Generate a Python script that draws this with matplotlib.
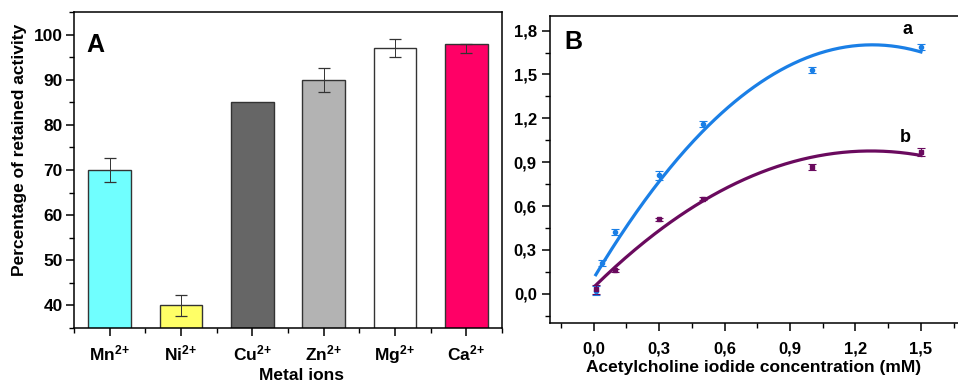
import numpy as np
import matplotlib
matplotlib.use("Agg")
import matplotlib.pyplot as plt
from matplotlib.ticker import MultipleLocator, FuncFormatter

plt.rcParams["font.family"] = ["Liberation Sans", "DejaVu Sans"]
plt.rcParams["font.weight"] = "bold"
plt.rcParams["mathtext.fontset"] = "custom"
plt.rcParams["mathtext.rm"] = "Liberation Sans:bold"
plt.rcParams["mathtext.bf"] = "Liberation Sans:bold"
plt.rcParams["mathtext.default"] = "bf"

# ── Panel A data ──────────────────────────────────────
ions = ["Mn", "Ni", "Cu", "Zn", "Mg", "Ca"]
retained = [70, 40, 85, 90, 97, 98]
err_low = [2.7, 2.3, 0, 2.7, 2.0, 2.0]
err_up = [2.7, 2.3, 0, 2.7, 2.0, 0]
bar_colors = ["#70FFFF", "#FFFF66", "#666666", "#B3B3B3", "#FFFFFF", "#FF0066"]

# ── Panel B data ──────────────────────────────────────
conc_a = [0.01, 0.04, 0.1, 0.3, 0.5, 1.0, 1.5]
resp_a = [0.02, 0.21, 0.42, 0.81, 1.16, 1.53, 1.69]
err_a = [0.03, 0.02, 0.02, 0.03, 0.02, 0.02, 0.02]
conc_b = [0.01, 0.1, 0.3, 0.5, 1.0, 1.5]
resp_b = [0.03, 0.16, 0.51, 0.65, 0.87, 0.97]
err_b = [0.03, 0.01, 0.01, 0.01, 0.02, 0.03]

BLUE = "#1A7FE6"
PURPLE = "#6A0A5E"

fig = plt.figure(figsize=(9.58, 3.83), dpi=100)

# ── Panel A ───────────────────────────────────────────
ax1 = fig.add_axes([74 / 958, 1 - 328 / 383, 428 / 958, 316 / 383])
x = np.arange(len(ions))
ax1.bar(x, retained, width=0.6, color=bar_colors, edgecolor="#333333",
        linewidth=1.0, zorder=2)
for xi, v, lo, up in zip(x, retained, err_low, err_up):
    if lo > 0 or up > 0:
        ax1.errorbar(xi, v, yerr=[[lo], [up]], fmt="none", ecolor="#333333",
                     elinewidth=0.7, capsize=4, capthick=0.9, zorder=3)
ax1.set_xlim(-0.5, 5.5)
ax1.set_ylim(35, 105)
ax1.set_xticks(x)
ax1.set_xticklabels([r"$\mathrm{%s}^{\mathrm{2\!+}}$" % n for n in ions], fontsize=12.5)
ax1.xaxis.set_minor_locator(MultipleLocator(0.5))
ax1.yaxis.set_minor_locator(MultipleLocator(5))
ax1.set_yticks([40, 50, 60, 70, 80, 90, 100])
ax1.tick_params(axis="y", which="major", labelsize=12.5, length=6, width=1.1, pad=2)
ax1.tick_params(axis="x", which="major", length=6, width=1.1, pad=5)
ax1.tick_params(axis="both", which="minor", length=3.5, width=1.0)
ax1.set_ylabel("Percentage of retained activity", fontsize=12.5, fontweight="bold")
ax1.yaxis.set_label_coords(-0.11, 0.565)
ax1.set_xlabel("Metal ions", fontsize=12.5, fontweight="bold")
ax1.xaxis.set_label_coords(0.532, -0.125)
for s in ax1.spines.values():
    s.set_linewidth(1.1)
ax1.text(0.03, 0.935, "A", transform=ax1.transAxes, fontsize=18,
         fontweight="bold", va="top", ha="left")

# ── Panel B ───────────────────────────────────────────
ax2 = fig.add_axes([550 / 958, 1 - 323 / 383, 408 / 958, 307 / 383])
for conc, resp, err, col, mk in [(conc_a, resp_a, err_a, BLUE, "o"),
                                 (conc_b, resp_b, err_b, PURPLE, "s")]:
    ax2.errorbar(conc, resp, yerr=err, fmt=mk, color=col, ms=3,
                 elinewidth=0.8, capsize=3, capthick=0.8, zorder=3)
    coef = np.polyfit(conc, resp, 2)
    xs = np.linspace(min(conc), max(conc), 200)
    ax2.plot(xs, np.polyval(coef, xs), color=col, lw=2.3, zorder=2)

ax2.set_xlim(-0.2, 1.67)
ax2.set_ylim(-0.2, 1.9)
ax2.xaxis.set_major_locator(MultipleLocator(0.3))
ax2.xaxis.set_minor_locator(MultipleLocator(0.15))
ax2.yaxis.set_major_locator(MultipleLocator(0.3))
ax2.yaxis.set_minor_locator(MultipleLocator(0.15))
comma = FuncFormatter(lambda v, p: f"{v:.1f}".replace(".", ",").replace("-0,0", "0,0"))
ax2.xaxis.set_major_formatter(comma)
ax2.yaxis.set_major_formatter(comma)
ax2.tick_params(axis="both", which="major", labelsize=12, length=6, width=1.1)
ax2.tick_params(axis="x", which="major", pad=7)
ax2.tick_params(axis="both", which="minor", length=3.5, width=1.0)
ax2.set_xlabel("Acetylcholine iodide concentration (mM)", fontsize=12.5,
               fontweight="bold", labelpad=3)
ax2.spines["right"].set_visible(False)
for s in ax2.spines.values():
    s.set_linewidth(1.1)
ax2.text(0.035, 0.955, "B", transform=ax2.transAxes, fontsize=18,
         fontweight="bold", va="top", ha="left")
ax2.text(1.44, 1.81, "a", fontsize=13, fontweight="bold", ha="center", va="center")
ax2.text(1.43, 1.07, "b", fontsize=13, fontweight="bold", ha="center", va="center")

fig.savefig("out.png", dpi=100)
